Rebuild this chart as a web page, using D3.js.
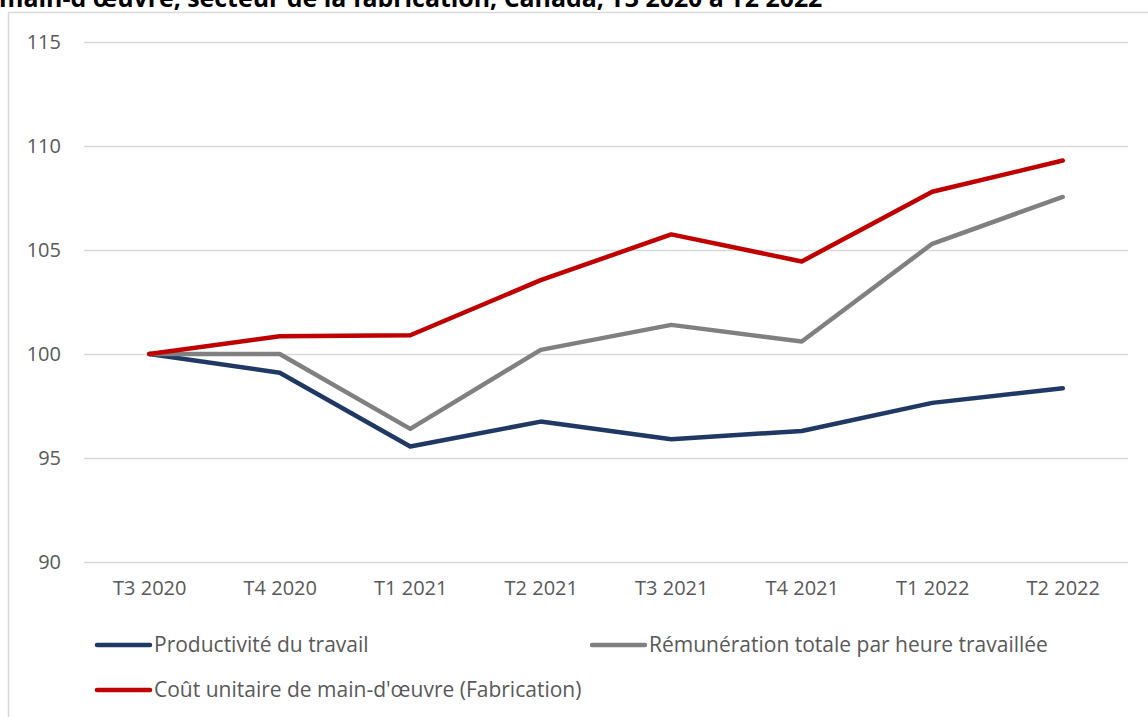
<!DOCTYPE html>
<html>
<head>
<meta charset="utf-8">
<script src="https://cdn.jsdelivr.net/npm/d3@7"></script>
<style>
  body { margin: 0; background: #fff; }
  svg { display: block; font-family: "Open Sans", sans-serif; }
  .tick text { fill: #595959; font-size: 20px; font-family: "Open Sans", sans-serif; }
  .legend { fill: #595959; font-size: 21px; }
  .title { fill: #000; font-size: 24.9px; font-weight: bold; }
</style>
</head>
<body>
<div id="chart"></div>
<script>
// data
var quarters = ["T3 2020", "T4 2020", "T1 2021", "T2 2021", "T3 2021", "T4 2021", "T1 2022", "T2 2022"];
var productivite = [100, 99.1, 95.55, 96.75, 95.9, 96.3, 97.65, 98.35];
var remuneration = [100, 100, 96.4, 100.2, 101.4, 100.6, 105.3, 107.55];
var coutUnitaire = [100, 100.85, 100.9, 103.55, 105.75, 104.45, 107.8, 109.3];
var yTicks = [90, 95, 100, 105, 110, 115];
var seriesNames = ["Productivité du travail", "Rémunération totale par heure travaillée",
    "Coût unitaire de main-d'œuvre (Fabrication)"];
var seriesColours = ["#1F3864", "#808080", "#C00000"];
var titleText = "main-d'œuvre, secteur de la fabrication, Canada, T3 2020 à T2 2022";

var width = 1148, height = 717;
var plotLeft = 84, plotRight = 1128, plotTop = 42, plotBottom = 562;

svg = d3.select("#chart").append("svg")
    .attr("width", width)
    .attr("height", height);

// chart frame
svg.append("rect")
    .attr("x", 8.5).attr("y", 12.5)
    .attr("width", width).attr("height", height)
    .style("fill", "none")
    .style("stroke", "#D9D9D9")
    .style("stroke-width", 1.5);

// title (cut off at top)
svg.append("text")
    .attr("class", "title")
    .attr("x", -1)
    .attr("y", 7)
    .text(titleText);

x = d3.scalePoint()
    .domain(quarters)
    .range([plotLeft, plotRight])
    .padding(0.5);
y = d3.scaleLinear()
    .domain([90, 115])
    .range([plotBottom, plotTop]);

// gridlines + y labels
yAxis = svg.append("g")
    .attr("transform", "translate(" + plotLeft + ",0)")
    .call(d3.axisLeft(y).tickValues(yTicks).tickSize(-(plotRight - plotLeft)).tickPadding(23).tickFormat(d3.format("d")));
yAxis.select(".domain").remove();
yAxis.selectAll(".tick line").style("stroke", "#D9D9D9").style("stroke-width", 1.5);

// x labels
xAxis = svg.append("g")
    .attr("transform", "translate(0," + plotBottom + ")")
    .call(d3.axisBottom(x).tickSize(0).tickPadding(19));
xAxis.select(".domain").remove();

// lines
var allSeries = [productivite, remuneration, coutUnitaire];
line = d3.line()
    .x((d, i) => x(quarters[i]))
    .y((d) => y(d));
[0, 1, 2].forEach((k) => {
    svg.append("path")
        .datum(allSeries[k])
        .attr("d", line)
        .style("fill", "none")
        .style("stroke", seriesColours[k])
        .style("stroke-width", 4.5)
        .style("stroke-linejoin", "round")
        .style("stroke-linecap", "round");
});

// legend
var legendPos = [[97, 645], [592, 645], [97, 690]];
seriesNames.forEach((name, k) => {
    g = svg.append("g").attr("transform", "translate(" + legendPos[k][0] + "," + legendPos[k][1] + ")");
    g.append("line")
        .attr("x1", 0).attr("x2", 53)
        .style("stroke", seriesColours[k])
        .style("stroke-width", 4.5)
        .style("stroke-linecap", "round");
    g.append("text")
        .attr("class", "legend")
        .attr("x", 57)
        .attr("y", 7)
        .text(name);
});
</script>
</body>
</html>
